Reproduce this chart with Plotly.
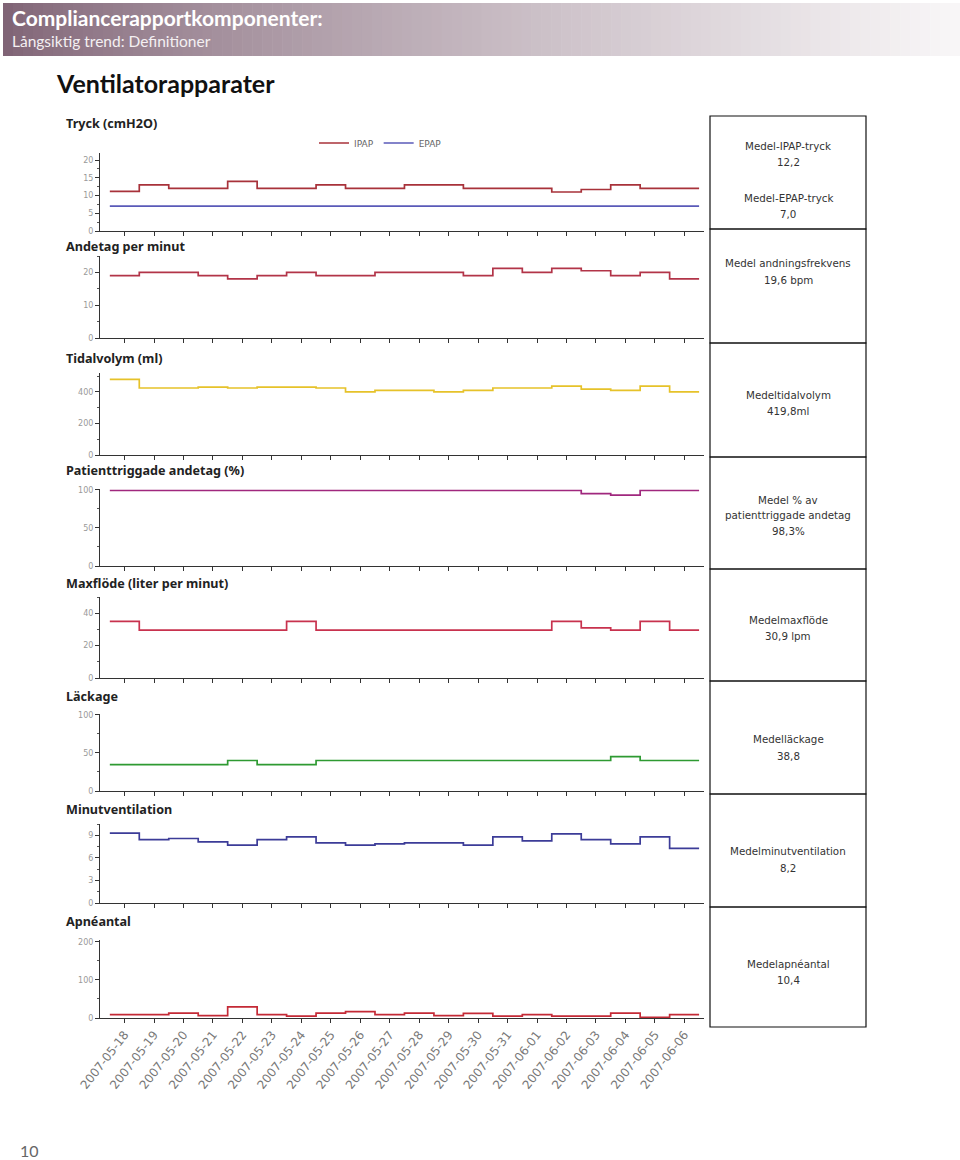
import plotly.graph_objects as go
import pandas as pd

# ---------------- data ----------------
date_labels = ["2007-05-18", "2007-05-19", "2007-05-20", "2007-05-21", "2007-05-22",
               "2007-05-23", "2007-05-24", "2007-05-25", "2007-05-26", "2007-05-27",
               "2007-05-28", "2007-05-29", "2007-05-30", "2007-05-31", "2007-06-01",
               "2007-06-02", "2007-06-03", "2007-06-04", "2007-06-05", "2007-06-06"]

ipap = [11.2, 13, 12, 12, 14, 12, 12, 13, 12, 12, 13, 13, 12, 12, 12, 11, 11.7, 13, 12, 12]
epap = [7, 7, 7, 7, 7, 7, 7, 7, 7, 7, 7, 7, 7, 7, 7, 7, 7, 7, 7, 7]
andetag = [19, 20, 20, 19, 18, 19, 20, 19, 19, 20, 20, 20, 19, 21.2, 20, 21.2, 20.5, 19, 20, 18]
tidalvolym = [480, 425, 425, 430, 425, 430, 430, 425, 400, 410, 410, 400, 410, 425, 425,
              437, 418, 410, 437, 400]
patienttrig = [99, 99, 99, 99, 99, 99, 99, 99, 99, 99, 99, 99, 99, 99, 99, 99, 95, 93, 99, 99]
maxflode = [35, 29.5, 29.5, 29.5, 29.5, 29.5, 35, 29.5, 29.5, 29.5, 29.5, 29.5, 29.5, 29.5,
            29.5, 35, 31, 29.5, 35, 29.5]
lackage = [34.5, 34.5, 34.5, 34.5, 40, 34.5, 34.5, 40, 40, 40, 40, 40, 40, 40, 40, 40, 40,
           45, 40, 40]
minutvent = [9.3, 8.43, 8.57, 8.13, 7.7, 8.43, 8.78, 8.0, 7.7, 7.87, 8.0, 8.0, 7.7, 8.78,
             8.26, 9.2, 8.43, 7.87, 8.78, 7.26]
apneantal = [9, 9, 13, 6, 29, 9, 5, 13, 17, 9, 13, 6, 12, 5, 9, 5, 5, 13, 2, 9]

panel_titles = ["Tryck (cmH2O)", "Andetag per minut", "Tidalvolym (ml)",
                "Patienttriggade andetag (%)", "Maxflöde (liter per minut)", "Läckage",
                "Minutventilation", "Apnéantal"]

summary_texts = [
    ["Medel-IPAP-tryck", "12,2", "Medel-EPAP-tryck", "7,0"],
    ["Medel andningsfrekvens", "19,6 bpm"],
    ["Medeltidalvolym", "419,8ml"],
    ["Medel % av", "patienttriggade andetag", "98,3%"],
    ["Medelmaxflöde", "30,9 lpm"],
    ["Medelläckage", "38,8"],
    ["Medelminutventilation", "8,2"],
    ["Medelapnéantal", "10,4"],
]

# ---------------- layout helpers ----------------
W, H = 960, 1160


def px(x):
    return x / W


def py(y):
    return 1 - y / H


dates = pd.to_datetime(date_labels)
half = pd.Timedelta(hours=12)
edges = list(dates - half) + [dates[-1] + half]


def step(vals):
    return list(vals) + [vals[-1]]


# (series, y-range, dtick, top px, bottom px, title px)
panels = [
    ([("IPAP", ipap, "#a8323a"), ("EPAP", epap, "#5a5ab8")], [0, 22], 5, 153, 231, 124),
    ([("Andetag", andetag, "#b23448")], [0, 25], 10, 256, 338, 246),
    ([("Tidalvolym", tidalvolym, "#e6c22a")], [0, 520], 200, 373, 455, 358),
    ([("Patienttriggade", patienttrig, "#a0287e")], [0, 101], 50, 489, 566, 471),
    ([("Maxflöde", maxflode, "#c8324e")], [0, 50], 20, 597, 678, 583),
    ([("Läckage", lackage, "#2e9a32")], [0, 101], 50, 714, 791, 696),
    ([("Minutventilation", minutvent, "#3c3c98")], [0, 10.5], 3, 824, 903, 809),
    ([("Apnéantal", apneantal, "#c42a36")], [0, 205], 100, 940, 1018, 921),
]

fig = go.Figure()
layout = dict(
    width=W, height=H,
    margin=dict(l=0, r=0, t=0, b=0),
    paper_bgcolor="white", plot_bgcolor="white",
    showlegend=True,
)

annotations = []
shapes = []

xr = [dates[0] - pd.Timedelta(hours=20), dates[-1] + pd.Timedelta(hours=16)]

for i, (series, yr, dt, top, bot, ttl) in enumerate(panels):
    n = i + 1
    xa = "x" if n == 1 else f"x{n}"
    ya = "y" if n == 1 else f"y{n}"
    for name, vals, col in series:
        fig.add_trace(go.Scatter(
            x=edges, y=step(vals), mode="lines", name=name,
            line=dict(color=col, width=1.7, shape="hv"),
            xaxis=xa, yaxis=ya, showlegend=(n == 1), hoverinfo="skip"))
    last = (n == len(panels))
    layout[f"xaxis{'' if n == 1 else n}"] = dict(
        domain=[px(100), px(704)], anchor=ya, type="date", range=xr,
        tickvals=list(dates), ticktext=date_labels, showticklabels=last,
        tickangle=-52, tickfont=dict(family="DejaVu Sans", size=12, color="#777"),
        ticks="outside", ticklen=4, tickcolor="#333", showline=True,
        linecolor="#333", linewidth=1, showgrid=False, zeroline=False,
        automargin=False,
    )
    layout[f"yaxis{'' if n == 1 else n}"] = dict(
        domain=[py(bot), py(top)], anchor=xa, range=yr, dtick=dt, tick0=0,
        tickfont=dict(family="DejaVu Sans", size=8, color="#999"),
        ticks="outside", ticklen=4, tickcolor="#333", showline=True,
        linecolor="#333", linewidth=1, showgrid=False, zeroline=False,
        minor=dict(ticks="outside", ticklen=2, tickcolor="#555", dtick=dt / 2),
        automargin=False,
    )
    annotations.append(dict(
        x=px(64), y=py(ttl), xref="paper", yref="paper", xanchor="left",
        yanchor="middle", showarrow=False, text=f"<b>{panel_titles[i]}</b>",
        font=dict(family="Noto Sans", size=12.6, color="#222")))

layout["legend"] = dict(
    orientation="h", x=px(314), y=py(143), xanchor="left", yanchor="middle",
    font=dict(family="DejaVu Sans", size=9, color="#666"),
    bgcolor="rgba(0,0,0,0)", itemwidth=30, tracegroupgap=0,
)

# ---------------- summary boxes ----------------
box_edges = [116, 229, 343, 457, 569, 681, 794, 907, 1027]
text_rows = [
    [146, 162, 198, 214],
    [263, 280],
    [395, 411],
    [500, 515, 531],
    [620, 636],
    [739, 756],
    [851, 868],
    [964, 980],
]
for b in range(8):
    shapes.append(dict(type="rect", xref="paper", yref="paper",
                       x0=px(710), x1=px(866), y0=py(box_edges[b + 1]), y1=py(box_edges[b]),
                       line=dict(color="#111", width=1.2), fillcolor="rgba(0,0,0,0)"))
    for t, yy in zip(summary_texts[b], text_rows[b]):
        annotations.append(dict(
            x=px(788), y=py(yy), xref="paper", yref="paper", showarrow=False,
            xanchor="center", yanchor="middle", text=t,
            font=dict(family="DejaVu Sans", size=10.3, color="#333")))

# ---------------- header band (gradient) ----------------
steps = 96
x_start, x_end = 3, 960
c0 = (128, 100, 118)
c1 = (248, 246, 247)
for k in range(steps):
    f = k / (steps - 1)
    g = f ** 0.8
    col = tuple(int(round(c0[j] + (c1[j] - c0[j]) * g)) for j in range(3))
    xa0 = x_start + (x_end - x_start) * k / steps
    xa1 = x_start + (x_end - x_start) * (k + 1) / steps + 0.6
    shapes.append(dict(type="rect", xref="paper", yref="paper", layer="below",
                       x0=px(xa0), x1=px(xa1), y0=py(56), y1=py(3),
                       line=dict(width=0), fillcolor="rgb(%d,%d,%d)" % col))

annotations.append(dict(
    x=px(10), y=py(18), xref="paper", yref="paper", xanchor="left", yanchor="middle",
    showarrow=False, text="<b>Compliancerapportkomponenter:</b>",
    font=dict(family="Lato", size=21, color="white")))
annotations.append(dict(
    x=px(10), y=py(41), xref="paper", yref="paper", xanchor="left", yanchor="middle",
    showarrow=False, text="Långsiktig trend: Definitioner",
    font=dict(family="Lato", size=15.5, color="#f4f0f2")))
annotations.append(dict(
    x=px(54), y=py(83), xref="paper", yref="paper", xanchor="left", yanchor="middle",
    showarrow=False, text="<b>Ventilatorapparater</b>",
    font=dict(family="Lato", size=25, color="#111")))
annotations.append(dict(
    x=px(18), y=py(1150), xref="paper", yref="paper", xanchor="left", yanchor="middle",
    showarrow=False, text="10",
    font=dict(family="Lato", size=16, color="#666")))

layout["annotations"] = annotations
layout["shapes"] = shapes
fig.update_layout(**layout)
fig.write_html(
    "out.html",
    config={"displayModeBar": False},
    post_script=(
        "document.documentElement.style.margin='0';"
        "document.documentElement.style.overflow='hidden';"
        "document.body.style.margin='0';document.body.style.padding='0';"
        "document.body.style.overflow='hidden';"
        "var gd=document.getElementById('{plot_id}');"
        "gd.style.position='fixed';gd.style.left='0px';gd.style.top='0px';"
    ),
)
